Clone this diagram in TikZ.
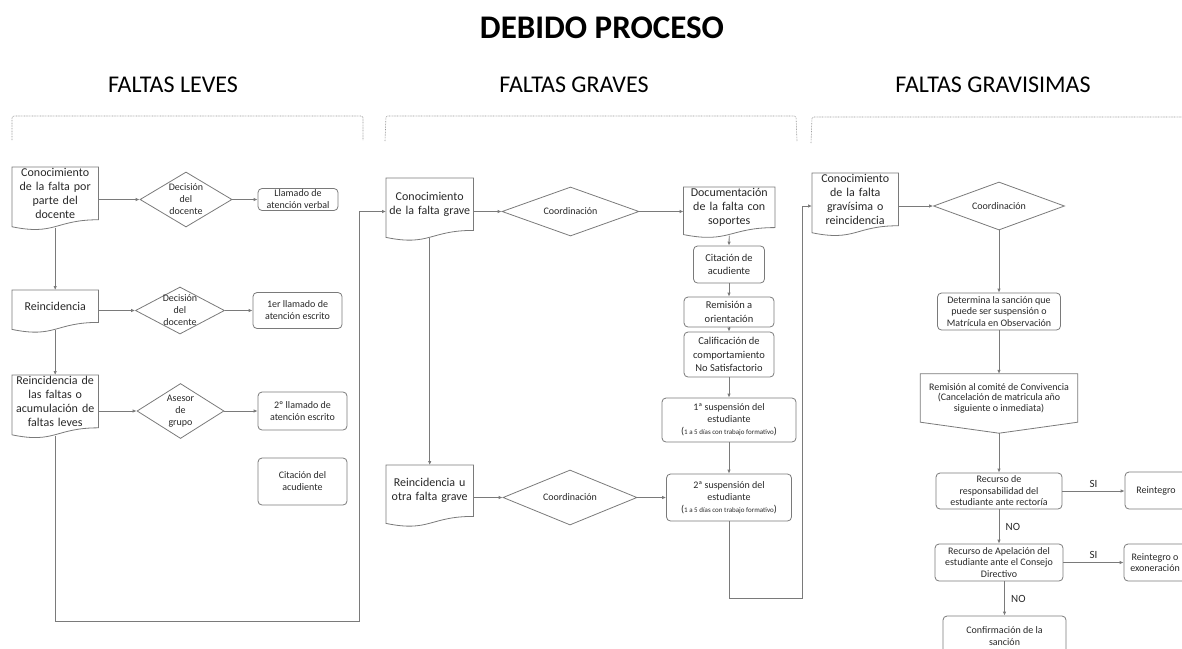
\documentclass[tikz,border=0pt]{standalone}
\usepackage{fontspec}
\setmainfont{Carlito}
\usetikzlibrary{shapes.geometric,arrows.meta,calc}
\definecolor{linegray}{RGB}{122,122,122}
\definecolor{textgray}{RGB}{40,40,40}
\newcommand\diasnote{{\fontsize{10}{12}\selectfont(}{\fontsize{7}{8}\selectfont 1 a 5 días con trabajo formativo}{\fontsize{10}{12}\selectfont)}}

\begin{document}
\begin{tikzpicture}[x=1pt, y=-1pt,
  gline/.style={draw=linegray, line width=0.8pt},
  arr/.style={gline, -{Latex[length=4pt,width=3.5pt]}},
  doc/.style={anchor=north west, text width=#1, align=center, inner xsep=1pt, inner ysep=1pt,
    font=\fontsize{12}{14}\selectfont, text=textgray},
  decision/.style={diamond, gline, aspect=1.7, inner sep=-2pt, align=center,
    font=\fontsize{10}{12}\selectfont, text=textgray},
  box/.style={rectangle, rounded corners=4pt, gline, align=center, inner sep=1pt,
    font=\fontsize{10}{12}\selectfont, text=textgray},
  gbox/.style={box, font=\fontsize{10.5}{13.5}\selectfont},
  rbox/.style={box, font=\fontsize{10}{11.5}\selectfont},
  header/.style={font=\fontsize{24}{28}\selectfont},
  bracket/.style={draw=linegray!80, line width=0.6pt, dash pattern=on 0.8pt off 0.8pt, rounded corners=2pt},
  answer/.style={font=\fontsize{11}{13}\selectfont, text=textgray}]
  \useasboundingbox (0,0) rectangle (1182,648);
  \clip (0,0) rectangle (1182,648);

  % titles
  \node[font=\fontsize{33}{36}\selectfont\bfseries] (title) at (602,28) {DEBIDO PROCESO};
  \node[header] (hLeves) at (173,85) {FALTAS LEVES};
  \node[header] (hGraves) at (574,85) {FALTAS GRAVES};
  \node[header] (hGravisimas) at (993,85) {FALTAS GRAVISIMAS};

  \draw[bracket] (12,140) -- (12,116) -- (363,116) -- (363,140);
  \draw[bracket] (385,141) -- (386,116) -- (796,116) -- (797,141);
  \draw[bracket] (811,143) -- (812,117) -- (1190,117);

  % faltas leves
  \node[doc=84pt] (docA) at (12,167) {Conocimiento\\de la falta por\\parte del\\docente};
  \node[decision, minimum width=92pt, minimum height=55pt] (decA) at (186,199.5) {Decisión\\del\\docente};
  \node[box, minimum width=80pt, minimum height=22pt] (boxA) at (298,199.5) {Llamado de\\atención verbal};
  \node[doc=84pt, minimum height=32pt] (docB) at (12,290) {Reincidencia};
  \node[decision, minimum width=89pt, minimum height=47pt] (decB) at (180,310.5) {Decisión\\del\\docente};
  \node[box, minimum width=89pt, minimum height=36pt] (boxB) at (297.5,310.5) {1er llamado de\\atención escrito};
  \node[doc=84pt] (docC) at (12,375) {Reincidencia de\\las faltas o\\acumulación de\\faltas leves};
  \node[decision, minimum width=87pt, minimum height=55pt] (decC) at (180.5,411) {Asesor\\de\\grupo};
  \node[box, minimum width=89pt, minimum height=38pt] (boxC) at (302.5,411) {2º llamado de\\atención escrito};
  \node[box, minimum width=89pt, minimum height=47pt] (boxD) at (302.5,481.5) {Citación del\\acudiente};

  % faltas graves
  \node[doc=85pt, minimum height=52pt] (gDocA) at (386,178) {Conocimiento\\de la falta grave};
  \node[decision, minimum width=137pt, minimum height=49pt] (gDecA) at (570.5,211.5) {Coordinación};
  \node[doc=89pt] (gDocB) at (683.5,187) {Documentación\\de la falta con\\soportes};
  \node[gbox, minimum width=71pt, minimum height=37pt] (gBox1) at (729,264.5) {Citación de\\acudiente};
  \node[gbox, minimum width=90pt, minimum height=30pt] (gBox2) at (729,312) {Remisión a\\orientación};
  \node[gbox, minimum width=90pt, minimum height=45pt] (gBox3) at (729,354.5) {Calificación de\\comportamiento\\No Satisfactorio};
  \node[box, minimum width=134pt, minimum height=44pt] (gBox4) at (729,420) {1ª suspensión del\\estudiante\\\diasnote};
  \node[box, minimum width=125pt, minimum height=47pt] (gBox5) at (729,497.5) {2ª suspensión del\\estudiante\\\diasnote};
  \node[doc=85pt, minimum height=51pt] (gDocC) at (386,465) {Reincidencia u\\otra falta grave};
  \node[decision, minimum width=134pt, minimum height=55pt] (gDecB) at (570,497.5) {Coordinación};

  % faltas gravisimas
  \node[doc=84pt] (rDocA) at (812,173) {Conocimiento\\de la falta\\gravísima o\\reincidencia};
  \node[decision, minimum width=131pt, minimum height=48pt] (rDecA) at (999,206) {Coordinación};
  \node[rbox, minimum width=123pt, minimum height=37pt] (rBox1) at (999,311.5) {Determina la sanción que\\puede ser suspensión o\\Matrícula en Observación};
  \node[align=center, inner sep=1pt, minimum width=157pt, minimum height=48pt,
    font=\fontsize{10}{10.5}\selectfont, text=textgray] (rOff) at (999,398) {Remisión al comité de Convivencia\\(Cancelación de matricula año\\siguiente o inmediata)};
  \node[rbox, minimum width=126pt, minimum height=36pt] (rBox2) at (999,491) {Recurso de\\responsabilidad del\\estudiante ante rectoría};
  \node[rbox, minimum width=62pt, minimum height=37pt] (rBox3) at (1156,490.5) {Reintegro};
  \node[rbox, minimum width=128pt, minimum height=37pt] (rBox4) at (999,562.5) {Recurso de Apelación del\\estudiante ante el Consejo\\Directivo};
  \node[rbox, minimum width=62pt, minimum height=37pt] (rBox5) at (1155,562.5) {Reintegro o\\exoneración};
  \node[rbox, minimum width=123pt, minimum height=40pt] (rBox6) at (1004.5,636) {Confirmación de la\\sanción};

  % document outlines
  \foreach \d in {docA,docB,docC,gDocA,gDocB,gDocC,rDocA}
    \draw[gline] (\d.south east) .. controls ($(\d.south)$) and ($(\d.south)+(0,16)$) .. ($(\d.south west)+(0,7)$)
      -- (\d.north west) -- (\d.north east) -- cycle;
  \draw[gline] (rOff.south west) -- (rOff.north west) -- (rOff.north east) -- (rOff.south east)
    -- ($(rOff.south)+(0,11)$) -- cycle;

  % connectors
  \draw[arr] (docA.east |- decA.west) -- (decA.west);
  \draw[arr] (decA.east) -- (boxA.west |- decA.east);
  \draw[arr] ($(docA.south)+(0,8)$) -- (docB.north);
  \draw[arr] (docB.east |- decB.west) -- (decB.west);
  \draw[arr] (decB.east) -- (boxB.west |- decB.east);
  \draw[arr] ($(docB.south)+(0,8)$) -- (docC.north);
  \draw[arr] (docC.east |- decC.west) -- (decC.west);
  \draw[arr] (decC.east) -- (boxC.west |- decC.east);
  \coordinate (loopL) at (359,621);
  \draw[arr] ($(docC.south)+(0,8)$) |- (loopL) |- (gDocA.west |- gDecA.west);

  \draw[arr] (gDocA.east |- gDecA.west) -- (gDecA.west);
  \draw[arr] (gDecA.east) -- (gDocB.west |- gDecA.east);
  \draw[arr] ($(gDocB.south)+(0,8)$) -- (gBox1.north);
  \foreach \a/\b in {gBox1/gBox2,gBox2/gBox3,gBox3/gBox4,gBox4/gBox5}
    \draw[arr] (\a.south) -- (\b.north);
  \draw[arr] ($(gDocA.south)+(0,8)$) -- (gDocC.north);
  \draw[arr] (gDocC.east |- gDecB.west) -- (gDecB.west);
  \draw[arr] (gDecB.east) -- (gBox5.west |- gDecB.east);
  \coordinate (loopG) at (802,598);
  \draw[arr] (gBox5.south) |- (loopG) |- (rDocA.west |- rDecA.west);

  \draw[arr] (rDocA.east |- rDecA.west) -- (rDecA.west);
  \draw[arr] (rDecA.south) -- (rBox1.north);
  \draw[arr] (rBox1.south) -- (rOff.north);
  \draw[arr] ($(rOff.south)+(0,11)$) -- (rBox2.north);
  \draw[arr] (rBox2.east) -- node[answer, above] {SI} (rBox3.west |- rBox2.east);
  \draw[arr] (rBox2.south) -- node[answer, right, xshift=3pt] {NO} (rBox4.north);
  \draw[arr] (rBox4.east) -- node[answer, above] {SI} (rBox5.west |- rBox4.east);
  \draw[arr] (rBox6.north |- rBox4.south) -- node[answer, right, xshift=3pt] {NO} (rBox6.north);
\end{tikzpicture}
\end{document}
